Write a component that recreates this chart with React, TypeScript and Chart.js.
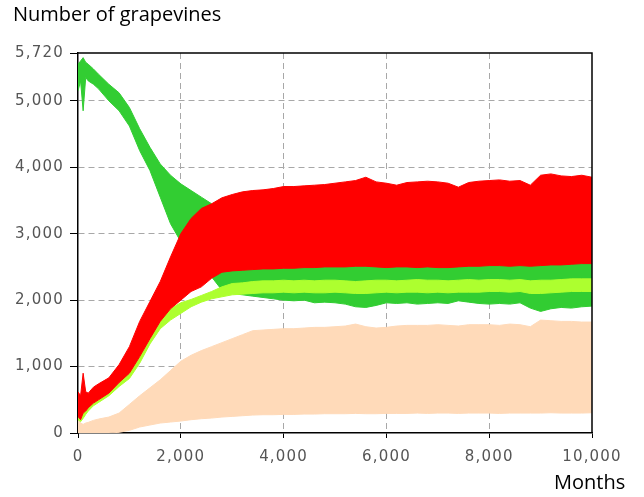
import React, { useEffect, useRef } from "react";
import { Chart, registerables } from "chart.js";

Chart.register(...registerables);

const months = [0, 50, 100, 150, 200, 300, 400, 600, 800, 1000, 1200, 1400, 1600, 1800, 2000, 2200, 2400, 2600, 2800, 3000, 3200, 3400, 3600, 3800, 4000, 4200, 4400, 4600, 4800, 5000, 5200, 5400, 5600, 5800, 6000, 6200, 6400, 6600, 6800, 7000, 7200, 7400, 7600, 7800, 8000, 8200, 8400, 8600, 8800, 9000, 9200, 9400, 9600, 9800, 10000];

const greenUpper = [5550, 5600, 5650, 5580, 5550, 5480, 5400, 5250, 5120, 4900, 4580, 4300, 4050, 3880, 3750, 3650, 3550, 3450, 2560, 2550, 2560, 2570, 2570, 2580, 2580, 2570, 2580, 2580, 2590, 2580, 2580, 2570, 2570, 2580, 2590, 2580, 2570, 2580, 2590, 2580, 2590, 2580, 2590, 2590, 2580, 2580, 2590, 2600, 2590, 2590, 2580, 2590, 2600, 2600, 2610];
const greenLower = [5150, 5300, 4850, 5350, 5300, 5250, 5180, 5000, 4850, 4620, 4250, 3950, 3550, 3150, 2880, 2600, 2500, 2350, 2150, 2100, 2080, 2060, 2040, 2020, 2000, 1990, 2000, 1960, 1970, 1960, 1940, 1900, 1890, 1920, 1960, 1950, 1960, 1940, 1950, 1960, 1950, 1990, 1970, 1950, 1940, 1950, 1940, 1960, 1880, 1830, 1870, 1890, 1880, 1900, 1910];

const redUpper = [620, 560, 900, 620, 600, 690, 740, 830, 1030, 1300, 1680, 1980, 2280, 2650, 3000, 3230, 3380, 3450, 3540, 3590, 3630, 3650, 3660, 3680, 3710, 3710, 3720, 3730, 3740, 3760, 3780, 3800, 3850, 3780, 3760, 3730, 3770, 3780, 3790, 3780, 3760, 3700, 3770, 3790, 3800, 3810, 3790, 3800, 3730, 3880, 3900, 3870, 3860, 3880, 3850];
const redLower = [250, 200, 300, 330, 380, 450, 500, 600, 760, 900, 1150, 1420, 1680, 1870, 2000, 2130, 2200, 2330, 2420, 2440, 2450, 2460, 2470, 2470, 2480, 2480, 2490, 2490, 2500, 2500, 2500, 2510, 2510, 2500, 2490, 2500, 2500, 2490, 2500, 2490, 2490, 2500, 2510, 2510, 2520, 2520, 2510, 2520, 2510, 2520, 2530, 2530, 2540, 2550, 2550];

const limeUpper = [250, 200, 300, 330, 380, 450, 500, 600, 760, 900, 1150, 1420, 1680, 1870, 1960, 2010, 2070, 2130, 2200, 2250, 2260, 2280, 2290, 2290, 2300, 2290, 2300, 2290, 2300, 2300, 2290, 2280, 2290, 2300, 2300, 2290, 2300, 2310, 2300, 2300, 2290, 2300, 2310, 2300, 2310, 2310, 2300, 2310, 2290, 2300, 2300, 2310, 2320, 2320, 2320];
const limeLower = [200, 170, 220, 280, 330, 410, 460, 560, 700, 820, 1050, 1340, 1570, 1700, 1800, 1900, 1970, 2020, 2050, 2080, 2090, 2100, 2110, 2110, 2120, 2110, 2120, 2110, 2110, 2120, 2110, 2100, 2100, 2110, 2120, 2110, 2120, 2120, 2110, 2120, 2110, 2120, 2120, 2120, 2130, 2130, 2120, 2130, 2100, 2100, 2110, 2120, 2130, 2130, 2130];

const peachUpper = [200, 150, 130, 150, 160, 190, 210, 240, 300, 430, 560, 680, 800, 940, 1080, 1170, 1240, 1300, 1360, 1420, 1480, 1540, 1550, 1560, 1570, 1570, 1580, 1590, 1590, 1600, 1610, 1640, 1600, 1580, 1590, 1610, 1620, 1620, 1620, 1630, 1620, 1610, 1630, 1630, 1630, 1620, 1640, 1630, 1600, 1700, 1690, 1680, 1680, 1670, 1670];
const peachLower = [0, 0, 0, 0, 0, 0, 0, 0, 10, 40, 90, 120, 150, 165, 180, 200, 215, 225, 240, 250, 260, 270, 275, 275, 280, 280, 285, 285, 290, 290, 290, 295, 290, 290, 295, 295, 295, 300, 295, 300, 300, 295, 300, 300, 300, 295, 300, 300, 300, 300, 305, 300, 300, 300, 305];

const yTicks = [0, 1000, 2000, 3000, 4000, 5000, 5720];
const xTicks = [0, 2000, 4000, 6000, 8000, 10000];

const yTitle = "Number of grapevines";
const xTitle = "Months";

const toPts = (ys: number[]) => months.map((m, i) => ({ x: m, y: ys[i] }));

const frame = {
  id: "frame",
  beforeDraw(chart: any) {
    (chart.ctx as any).letterSpacing = "1.2px";
  },
  afterDraw(chart: any) {
    const { ctx, chartArea } = chart;
    ctx.save();
    ctx.strokeStyle = "#000";
    ctx.lineWidth = 1.5;
    ctx.beginPath();
    ctx.moveTo(chartArea.left, chartArea.top);
    ctx.lineTo(chartArea.right, chartArea.top);
    ctx.lineTo(chartArea.right, chartArea.bottom);
    ctx.stroke();
    ctx.restore();
  },
};

function band(label: string, color: string, upper: number[], lower: number[], order: number) {
  return [
    {
      label: label + " max",
      data: toPts(upper),
      borderColor: color,
      backgroundColor: color,
      borderWidth: 1,
      pointRadius: 0,
      fill: "+1",
      order,
    },
    {
      label: label + " min",
      data: toPts(lower),
      borderColor: color,
      backgroundColor: color,
      borderWidth: 1,
      pointRadius: 0,
      fill: false,
      order,
    },
  ];
}

export default function App() {
  const ref = useRef<HTMLCanvasElement>(null);
  useEffect(() => {
    if (!ref.current) return;
    const gridColor = (c: any) => {
      const v = c.tick ? c.tick.value : null;
      if (v === 0 || v === 5720 || v === 10000) return "rgba(0,0,0,0)";
      return "#a8a8a8";
    };
    const chart = new Chart(ref.current, {
      type: "line",
      data: {
        datasets: [
          ...band("Red", "#ff0000", redUpper, redLower, 1),
          ...band("Light green", "#adff2f", limeUpper, limeLower, 2),
          ...band("Green", "#32cd32", greenUpper, greenLower, 3),
          ...band("Peach", "#ffdab9", peachUpper, peachLower, 4),
        ] as any,
      },
      options: {
        animation: false,
        responsive: false,
        maintainAspectRatio: false,
        layout: { padding: { left: 0, right: 52, top: 53, bottom: 0 } },
        plugins: { legend: { display: false }, tooltip: { enabled: false } },
        elements: { line: { tension: 0 } },
        scales: {
          x: {
            type: "linear",
            min: 0,
            max: 10000,
            afterBuildTicks: (s: any) => {
              s.ticks = xTicks.map((v) => ({ value: v }));
            },
            afterFit: (s: any) => {
              s.height = 64;
            },
            ticks: {
              color: "#555",
              font: { family: "DejaVu Sans", size: 15 },
              padding: 10,
              maxRotation: 0,
              callback: (v: any) => Number(v).toLocaleString("en-US"),
            },
            grid: {
              color: gridColor,
              borderDash: [6, 4],
              tickColor: "#000",
              tickBorderDash: [],
              tickLength: 5,
              drawOnChartArea: true,
            } as any,
            border: { display: true, color: "#000", width: 1.5, dash: [6, 4] } as any,
          },
          y: {
            type: "linear",
            min: 0,
            max: 5720,
            afterBuildTicks: (s: any) => {
              s.ticks = yTicks.map((v) => ({ value: v }));
            },
            afterFit: (s: any) => {
              s.width = 78;
            },
            ticks: {
              color: "#555",
              font: { family: "DejaVu Sans", size: 15 },
              padding: 6,
              callback: (v: any) => Number(v).toLocaleString("en-US"),
            },
            grid: {
              color: gridColor,
              tickColor: "#000",
              tickBorderDash: [],
              tickLength: 8,
            } as any,
            border: { display: true, color: "#000", width: 1.5, dash: [6, 4] } as any,
          },
        },
      },
      plugins: [frame],
    });
    return () => chart.destroy();
  }, []);

  return (
    <div style={{ position: "absolute", left: 0, top: 0, width: 644, height: 497, background: "#fff" }}>
      <canvas ref={ref} width={644} height={497} style={{ position: "absolute", left: 0, top: 0 }} />
      <div
        style={{
          position: "absolute",
          left: 13,
          top: 4,
          fontFamily: "'Open Sans', sans-serif",
          fontSize: 20,
          lineHeight: "20px",
          color: "#000",
          whiteSpace: "nowrap",
        }}
      >
        {yTitle}
      </div>
      <div
        style={{
          position: "absolute",
          left: 554,
          top: 472,
          fontFamily: "'Open Sans', sans-serif",
          fontSize: 20,
          lineHeight: "20px",
          color: "#000",
          whiteSpace: "nowrap",
        }}
      >
        {xTitle}
      </div>
    </div>
  );
}
